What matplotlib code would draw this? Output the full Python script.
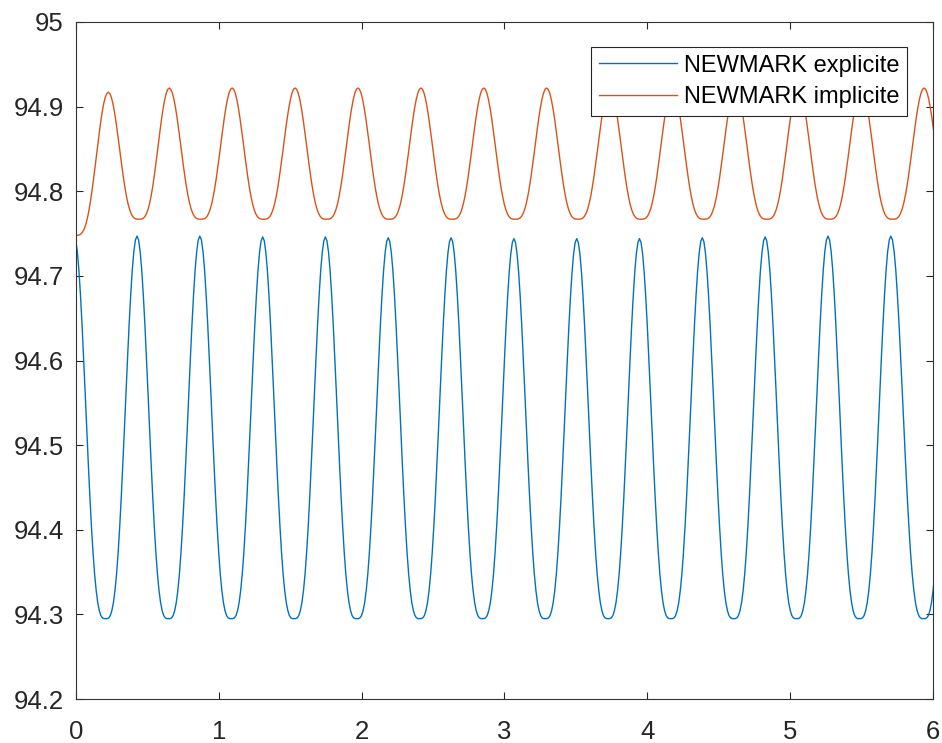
import matplotlib
matplotlib.use("Agg")
import matplotlib.pyplot as plt
import numpy as np

# extrema (time in s, value)
expl_peak_t = [-0.013, 0.427, 0.867, 1.307, 1.746, 2.186, 2.626, 3.066, 3.506,
               3.945, 4.385, 4.825, 5.265, 5.705, 6.155]
expl_peak_y = [94.747, 94.747, 94.747, 94.746, 94.746, 94.745, 94.745, 94.744, 94.744,
               94.744, 94.745, 94.746, 94.747, 94.747, 94.747]
expl_trough_t = [0.207, 0.647, 1.087, 1.527, 1.966, 2.406, 2.846, 3.286, 3.726,
                 4.165, 4.605, 5.045, 5.485, 5.935]
expl_trough_y = [94.295] * 14

impl_peak_t = [0.226, 0.653, 1.093, 1.534, 1.974, 2.415, 2.855, 3.295, 3.736,
               4.176, 4.617, 5.057, 5.497, 5.938]
impl_peak_y = [94.917, 94.922, 94.922, 94.922, 94.922, 94.922, 94.922, 94.922, 94.922,
               94.922, 94.922, 94.922, 94.922, 94.922]
impl_trough_t = [0.0, 0.440, 0.873, 1.313, 1.754, 2.194, 2.635, 3.075, 3.515,
                 3.956, 4.396, 4.837, 5.277, 5.717, 6.158]
impl_trough_y = [94.748] + [94.767] * 14

# shape of one half swing, peak -> trough, as a fraction of the swing
half_profile = [1.0, 0.990, 0.960, 0.912, 0.847, 0.770, 0.683, 0.591, 0.497, 0.405,
                0.319, 0.241, 0.173, 0.117, 0.074, 0.042, 0.021, 0.008, 0.002, 0.0, 0.0]

labels = ["NEWMARK explicite", "NEWMARK implicite"]
colors = ["#0072BD", "#D95319"]


def build_curve(peak_t, peak_y, trough_t, trough_y):
    ext = sorted(zip(peak_t + trough_t, peak_y + trough_y,
                     [1] * len(peak_t) + [0] * len(trough_t)))
    prof = np.array(half_profile)
    xs, ys = [], []
    for (t0, y0, k0), (t1, y1, k1) in zip(ext[:-1], ext[1:]):
        frac = prof if k0 == 1 else prof[::-1]
        hi, lo = (y0, y1) if k0 == 1 else (y1, y0)
        seg_t = np.linspace(t0, t1, len(prof))
        seg_y = lo + (hi - lo) * frac
        xs.append(seg_t[:-1])
        ys.append(seg_y[:-1])
    xs.append([ext[-1][0]])
    ys.append([ext[-1][1]])
    return np.concatenate(xs), np.concatenate(ys)


plt.rcParams["font.family"] = ["Liberation Sans", "DejaVu Sans"]

fig = plt.figure(figsize=(9.42, 7.43), dpi=100)
ax = fig.add_axes([0.0807, 0.0592, 0.9097, 0.9112])

t1, y1 = build_curve(expl_peak_t, expl_peak_y, expl_trough_t, expl_trough_y)
t2, y2 = build_curve(impl_peak_t, impl_peak_y, impl_trough_t, impl_trough_y)
ax.plot(t1, y1, color=colors[0], lw=1.0, label=labels[0])
ax.plot(t2, y2, color=colors[1], lw=1.0, label=labels[1])

ax.set_xlim(0, 6)
ax.set_ylim(94.2, 95)
ax.set_xticks(range(0, 7))
ax.set_yticks([94.2, 94.3, 94.4, 94.5, 94.6, 94.7, 94.8, 94.9, 95.0])
ax.set_yticklabels(["94.2", "94.3", "94.4", "94.5", "94.6", "94.7", "94.8", "94.9", "95"])

for s in ax.spines.values():
    s.set_color("#333333")
    s.set_linewidth(0.8)
ax.tick_params(direction="in", top=True, right=True, length=5, width=0.8,
               colors="#262626", labelsize=18.5)
ax.tick_params(axis="x", pad=15)
ax.tick_params(axis="y", pad=9)

leg = ax.legend(loc="upper right", bbox_to_anchor=(0.9697, 0.9631), borderaxespad=0,
                fontsize=17, handlelength=3.3, handletextpad=0.3,
                labelspacing=0.42, borderpad=0.32, fancybox=False, framealpha=1)
leg.get_frame().set_edgecolor("#262626")
leg.get_frame().set_linewidth(0.8)

fig.savefig("out.png", dpi=100)
